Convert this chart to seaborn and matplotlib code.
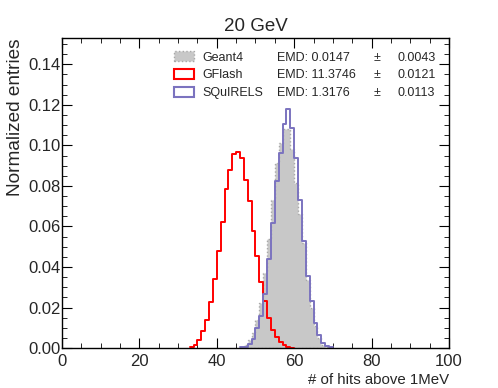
import seaborn as sns
import matplotlib.pyplot as plt
import numpy as np
import pandas as pd
from matplotlib.patches import Patch
from matplotlib.ticker import MultipleLocator

# normalized entries per 1-hit bin
geant4_start = 46
geant4 = [0.0005, 0.0016, 0.0040, 0.0073, 0.0139, 0.0222, 0.0371, 0.0536,
          0.0733, 0.0915, 0.1014, 0.1083, 0.1080, 0.0980, 0.0816, 0.0660,
          0.0520, 0.0338, 0.0198, 0.0107, 0.0049, 0.0016, 0.0005]

gflash_start = 33
gflash = [0.0005, 0.0016, 0.0041, 0.0082, 0.0140, 0.0226, 0.0343, 0.0478,
          0.0621, 0.0783, 0.0877, 0.0956, 0.0969, 0.0940, 0.0829, 0.0724,
          0.0580, 0.0453, 0.0326, 0.0234, 0.0148, 0.0091, 0.0054, 0.0028,
          0.0013, 0.0005, 0.0002]

squirels_start = 46
squirels = [0.0003, 0.0005, 0.0020, 0.0045, 0.0099, 0.0156, 0.0269, 0.0437,
            0.0618, 0.0824, 0.0964, 0.1104, 0.1178, 0.1088, 0.0940, 0.0733,
            0.0527, 0.0354, 0.0230, 0.0124, 0.0066, 0.0025, 0.0008, 0.0003]

labels = ['Geant4', 'GFlash', 'SQuIRELS']
emd = ['EMD: 0.0147', 'EMD: 11.3746', 'EMD: 1.3176']
emd_err = ['0.0043', '0.0121', '0.0113']

grey = '#c8c8c8'
red = '#ff0000'
purple = '#7b73bf'

sns.set_style('ticks')
plt.rcParams['font.family'] = ['Liberation Sans', 'DejaVu Sans']
plt.rcParams['xtick.direction'] = 'in'
plt.rcParams['ytick.direction'] = 'in'

fig = plt.figure(figsize=(4.98, 3.88), dpi=100)
ax = fig.add_axes([0.1245, 0.103, 0.777, 0.799])


def draw(start, vals, **kw):
    df = pd.DataFrame({'hits': start + np.arange(len(vals)) + 0.5,
                       'w': vals})
    sns.histplot(data=df, x='hits', weights='w', binwidth=1,
                 binrange=(start, start + len(vals)), stat='count',
                 element='step', ax=ax, **kw)


draw(geant4_start, geant4, fill=True, color=grey, alpha=1,
     edgecolor='#a8a8a8', linestyle=':', linewidth=1)
draw(gflash_start, gflash, fill=False, color=red, linewidth=1.4)
draw(squirels_start, squirels, fill=False, color=purple, linewidth=1.4)

ax.set_xlim(0, 100)
ax.set_ylim(0, 0.153)
ax.xaxis.set_major_locator(MultipleLocator(20))
ax.xaxis.set_minor_locator(MultipleLocator(5))
ax.yaxis.set_major_locator(MultipleLocator(0.02))
ax.yaxis.set_minor_locator(MultipleLocator(0.005))
ax.yaxis.set_major_formatter(plt.FormatStrFormatter('%.2f'))
ax.tick_params(which='both', top=True, right=True, color='black')
ax.tick_params(which='major', length=7, width=0.8, labelsize=12)
ax.tick_params(which='minor', length=3.5, width=0.6)
ax.tick_params(axis='x', which='major', pad=4)
ax.tick_params(axis='y', which='major', pad=1)
for s in ax.spines.values():
    s.set_linewidth(1.0)
    s.set_color('black')

ax.set_title('20 GeV', fontsize=13.5, pad=5)
ax.set_ylabel('Normalized entries', fontsize=13.7, loc='top', labelpad=3)
ax.set_xlabel('# of hits above 1MeV', fontsize=10.8, loc='right', labelpad=3)

handles = [Patch(facecolor=grey, edgecolor='#a8a8a8', linestyle=':'),
           Patch(facecolor='white', edgecolor=red, linewidth=1.5),
           Patch(facecolor='white', edgecolor=purple, linewidth=1.5)]
leg = ax.legend(handles, labels, loc='upper left', bbox_to_anchor=(0.263, 0.99),
                frameon=False, fontsize=9, handlelength=1.6, handleheight=0.9,
                labelspacing=0.42, handletextpad=0.7, borderpad=0.3)

fig.canvas.draw()
inv = ax.transAxes.inverted()
for t, e, err in zip(leg.get_texts(), emd, emd_err):
    bb = t.get_window_extent()
    y = inv.transform((0, (bb.y0 + bb.y1) / 2))[1]
    ax.text(0.556, y, e, fontsize=9, va='center', transform=ax.transAxes)
    ax.text(0.804, y, '\u00b1', fontsize=9, va='center', transform=ax.transAxes)
    ax.text(0.868, y, err, fontsize=9, va='center', transform=ax.transAxes)

fig.savefig('out.png', dpi=100)
